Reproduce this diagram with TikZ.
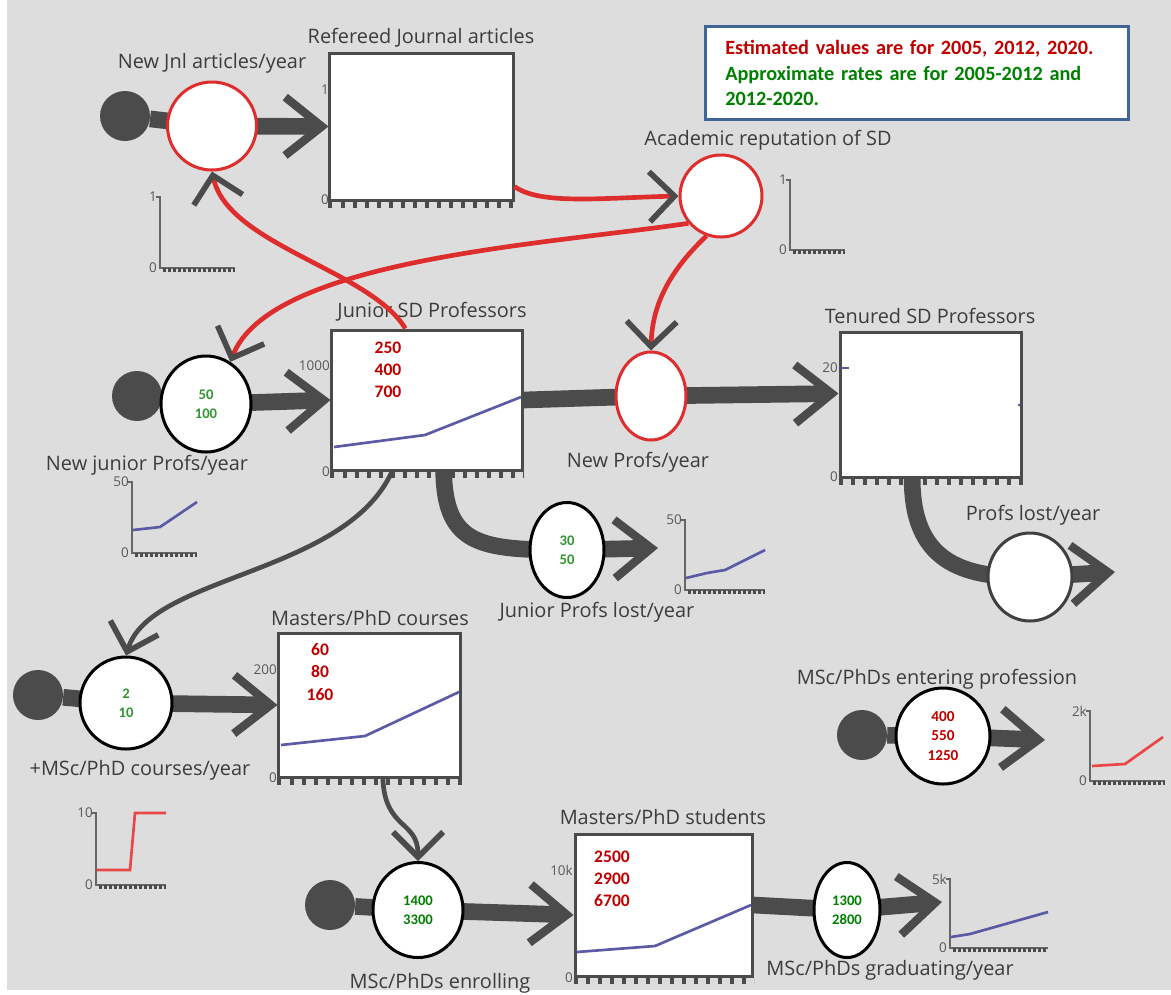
\documentclass[tikz,border=0pt]{standalone}
\usepackage{fontspec}
\setmainfont{Open Sans}
\newfontfamily\numfont{Carlito}
\usetikzlibrary{arrows.meta,shapes.geometric}

\definecolor{bggray}{RGB}{221,221,221}
\definecolor{pipegray}{RGB}{75,75,75}
\definecolor{linkred}{RGB}{222,45,45}
\definecolor{txtgray}{RGB}{60,60,60}
\definecolor{valred}{RGB}{192,0,0}
\definecolor{ratgreen}{RGB}{0,128,0}
\definecolor{ratlgreen}{RGB}{50,150,50}
\definecolor{plotblue}{RGB}{90,90,165}
\definecolor{plotred}{RGB}{235,70,70}
\definecolor{noteblue}{RGB}{65,100,150}

\pgfdeclarelayer{bg}
\pgfdeclarelayer{flows}
\pgfsetlayers{bg,flows,main}

\tikzset{
  stock/.style={draw=pipegray, line width=0.09cm, fill=white, inner sep=0pt},
  valve/.style={ellipse, draw=black, line width=0.09cm, fill=white, inner sep=0pt,
    align=center, text=ratlgreen, font=\numfont\bfseries\fontsize{12.5}{16.5}\selectfont},
  rvalve/.style={valve, draw=linkred},
  src/.style={circle, fill=pipegray, minimum size=1.5cm, inner sep=0pt},
  pipein/.style={draw=pipegray, line width=0.5cm},
  pipe/.style={pipein, -{Straight Barb[length=1.1cm, width=1.75cm, line width'=0.25cm]}},
  link/.style={draw=linkred, line width=0.14cm,
    -{Straight Barb[length=0.75cm, width=1.5cm, line width'=0.17cm, color=pipegray]}},
  glink/.style={link, draw=pipegray},
  lbl/.style={text=txtgray, font=\fontsize{17}{19}\selectfont, inner sep=0pt},
  axlbl/.style={text=txtgray!85, font=\fontsize{11.5}{12}\selectfont, inner sep=0pt, anchor=east},
  vals/.style={text=valred, font=\numfont\bfseries\fontsize{15}{19}\selectfont, align=center, inner sep=0pt},
  bticks/.style={draw=pipegray, line width=0.18cm, dash pattern=on 0.12cm off 0.24cm},
  gaxis/.style={draw=gray!80!black, line width=0.06cm},
  gticks/.style={draw=pipegray, line width=0.1cm, dash pattern=on 0.1cm off 0.05cm},
  plot/.style={draw=plotblue, line width=0.08cm},
  note/.style={draw=noteblue, line width=0.09cm, fill=white, inner xsep=0.6cm,
    text width=11.5cm, minimum height=2.8cm, align=left,
    font=\numfont\bfseries\fontsize{17.3}{22}\selectfont},
}

\begin{document}
\begin{tikzpicture}[x=0.03cm, y=-0.03cm]
\useasboundingbox (0,0) rectangle (1171,994);
\begin{pgfonlayer}{bg}
  \fill[bggray] (7,0) rectangle (1171,990);
\end{pgfonlayer}

% note
\node[note] (note) at (917,73) {\textcolor{valred}{Estimated values are for 2005, 2012, 2020.}\\
  \textcolor{ratgreen}{Approximate rates are for 2005-2012 and}\\
  \textcolor{ratgreen}{2012-2020.}};

% sources
\node[src] (srcjnl) at (125,116) {};
\node[src] (srcnjp) at (137,396) {};
\node[src] (srccrs) at (38,695) {};
\node[src] (srcenr) at (330,905) {};
\node[src] (srcent) at (862,735) {};

% stocks
\node[stock, minimum width=5.49cm, minimum height=4.41cm] (jnl) at (421.5,126.5) {};
\node[stock, minimum width=5.7cm, minimum height=4.2cm] (jsp) at (427,400) {};
\node[stock, minimum width=5.43cm, minimum height=4.35cm] (tsp) at (930.5,404.5) {};
\node[stock, minimum width=5.43cm, minimum height=4.32cm] (crs) at (369.5,705) {};
\node[stock, minimum width=5.31cm, minimum height=4.26cm] (mps) at (663.5,905) {};

% valves
\node[rvalve, minimum width=2.67cm, minimum height=2.64cm] (vjnl) at (212,126) {};
\node[rvalve, minimum width=2.46cm, minimum height=2.46cm] (rep) at (721,196) {};
\node[valve, minimum width=2.7cm, minimum height=2.88cm] (vnjp) at (206,404) {50\\100};
\node[rvalve, minimum width=2.1cm, minimum height=2.64cm] (vnp) at (651,396) {};
\node[valve, draw=black!75, minimum width=2.52cm, minimum height=2.64cm] (vpl) at (1030,577) {};
\node[valve, minimum width=2.22cm, minimum height=2.85cm] (vjpl) at (567,550) {30\\50};
\node[valve, minimum width=2.76cm, minimum height=2.76cm] (vcrs) at (126,703) {2\\10};
\node[valve, text=ratgreen, minimum width=2.7cm, minimum height=2.85cm] (venr) at (418,910) {1400\\3300};
\node[valve, text=ratgreen, minimum width=1.98cm, minimum height=2.85cm] (vgrd) at (847,910) {1300\\2800};
\node[valve, text=valred, font=\numfont\bfseries\fontsize{13}{16.5}\selectfont,
  minimum width=2.82cm, minimum height=2.88cm] (vent) at (943,736) {400\\550\\1250};

% titles
\node[lbl] (tjnl) at (421,38) {Refereed Journal articles};
\node[lbl] (tjsp) at (432,312) {Junior SD Professors};
\node[lbl] (ttsp) at (930,316) {Tenured SD Professors};
\node[lbl] (tcrs) at (370,618) {Masters/PhD courses};
\node[lbl] (tmps) at (663,817) {Masters/PhD students};
\node[lbl] (ljnl) at (212,63) {New Jnl articles/year};
\node[lbl] (lrep) at (768,140) {Academic reputation of SD};
\node[lbl] (lnjp) at (147,465) {New junior Profs/year};
\node[lbl] (lnp) at (638,462) {New Profs/year};
\node[lbl] (lpl) at (1033,515) {Profs lost/year};
\node[lbl] (ljpl) at (597,612) {Junior Profs lost/year};
\node[lbl] (lcrs) at (140,770) {+MSc/PhD courses/year};
\node[lbl] (lenr) at (440,983) {MSc/PhDs enrolling};
\node[lbl] (lgrd) at (890,970) {MSc/PhDs graduating/year};
\node[lbl] (lent) at (937,679) {MSc/PhDs entering profession};

% values in stocks
\node[vals] (njsp) at (388,370) {250\\400\\700};
\node[vals] (ncrs) at (320,672) {60\\80\\160};
\node[vals] (nmps) at (612,879) {2500\\2900\\6700};

% stock axes
\node[axlbl] (ajnlhi) at (329,90) {1};
\node[axlbl] (ajnllo) at (329,200) {0};
\node[axlbl] (ajsphi) at (330,366) {1000};
\node[axlbl] (ajsplo) at (330,472) {0};
\node[axlbl] (atsphi) at (838,368) {20};
\node[axlbl] (atsplo) at (838,477) {0};
\node[axlbl] (acrshi) at (277,670) {200};
\node[axlbl] (acrslo) at (277,778) {0};
\node[axlbl] (amps) at (573,870) {10k};
\node[axlbl] (ampslo) at (573,978) {0};
\foreach \b in {jnl,jsp,tsp,crs,mps}
  \draw[bticks] ([yshift=-0.1cm]\b.south west) -- ([yshift=-0.1cm]\b.south east);

\draw[plot] (334,447) -- (425,435) -- (521,397);
\draw[plot] (281,745) -- (365,736) -- (459,692);
\draw[plot] (577,952) -- (655,946) -- (751,905);
\draw[plot] (841,368) -- (849,368);
\fill[plotblue] (1019,405) circle (1.5);

% small graphs
\foreach \gx/\gt/\gb/\gr/\gh/\gn in {160/197/268/235/1/jnl, 790/180/250/845/1/rep,
    132/482/553/197/50/njp, 685/520/590/765/50/jpl, 96/813/885/166/10/crs,
    950/879/948/1048/5k/grd, 1090/711/781/1165/2k/ent}{
  \draw[gaxis] (\gx-4,\gt) -- (\gx,\gt) -- (\gx,\gb) -- (\gr,\gb);
  \draw[gticks] (\gx+3,\gb+2) -- (\gr,\gb+2);
  \node[axlbl] (g\gn hi) at (\gx-3,\gt) {\gh};
  \node[axlbl] (g\gn lo) at (\gx-3,\gb) {0};
}
\draw[plot] (133,530) -- (160,527) -- (197,502);
\draw[plot] (686,578) -- (707,573) -- (725,570) -- (765,550);
\draw[plot] (951,937) -- (970,934) -- (1048,912);
\draw[plot, draw=plotred] (97,870) -- (130,870) -- (135,813) -- (166,813);
\draw[plot, draw=plotred] (1092,766) -- (1125,764) -- (1163,737);

% flows
\begin{pgfonlayer}{flows}
  \draw[pipein] (srcjnl) -- (vjnl.center);
  \draw[pipe] (vjnl.center) -- (jnl.west);
  \draw[pipein] (srcnjp) -- (vnjp.center);
  \draw[pipe] (vnjp.center) -- (jsp.west);
  \draw[pipein] (jsp.east) -- (vnp.center);
  \draw[pipe] (vnp.center) -- ([yshift=0.33cm]tsp.west);
  \draw[pipein] ([xshift=0.5cm]jsp.south) .. controls (445,545) and (480,550) .. (vjpl.center);
  \coordinate (jplend) at (658,548);
  \draw[pipe] (vjpl.center) -- (jplend);
  \draw[pipein] ([xshift=-0.55cm]tsp.south) .. controls (912,560) and (960,578) .. (vpl.center);
  \coordinate (plend) at (1115,572);
  \draw[pipe] (vpl.center) -- (plend);
  \draw[pipein] (srccrs) -- (vcrs.center);
  \draw[pipe] (vcrs.center) -- (crs.west);
  \draw[pipein] (srcenr) -- (venr.center);
  \draw[pipe] (venr.center) -- ([yshift=-0.3cm]mps.west);
  \draw[pipein] (mps.east) -- (vgrd.center);
  \coordinate (grdend) at (942,902);
  \draw[pipe] (vgrd.center) -- (grdend);
  \draw[pipein] (srcent) -- (vent.center);
  \coordinate (entend) at (1045,740);
  \draw[pipe] (vent.center) -- (entend);
\end{pgfonlayer}

% links
\draw[link] ([yshift=0.45cm]jnl.south east) .. controls (540,205) and (600,198) .. (rep.west);
\draw[link] (rep.220) .. controls (540,245) and (270,260) .. (vnjp.60);
\draw[link] (rep.250) .. controls (665,275) and (652,310) .. (vnp.north);
\draw[link] ([xshift=-0.65cm]jsp.north) .. controls (370,270) and (228,245) .. (vjnl.south);
\draw[glink] ([xshift=-1.05cm]jsp.south) .. controls (345,575) and (150,575) .. (vcrs.north);
\draw[glink] ([xshift=0.4cm]crs.south) .. controls (385,830) and (418,820) .. (venr.north);
\end{tikzpicture}
\end{document}
